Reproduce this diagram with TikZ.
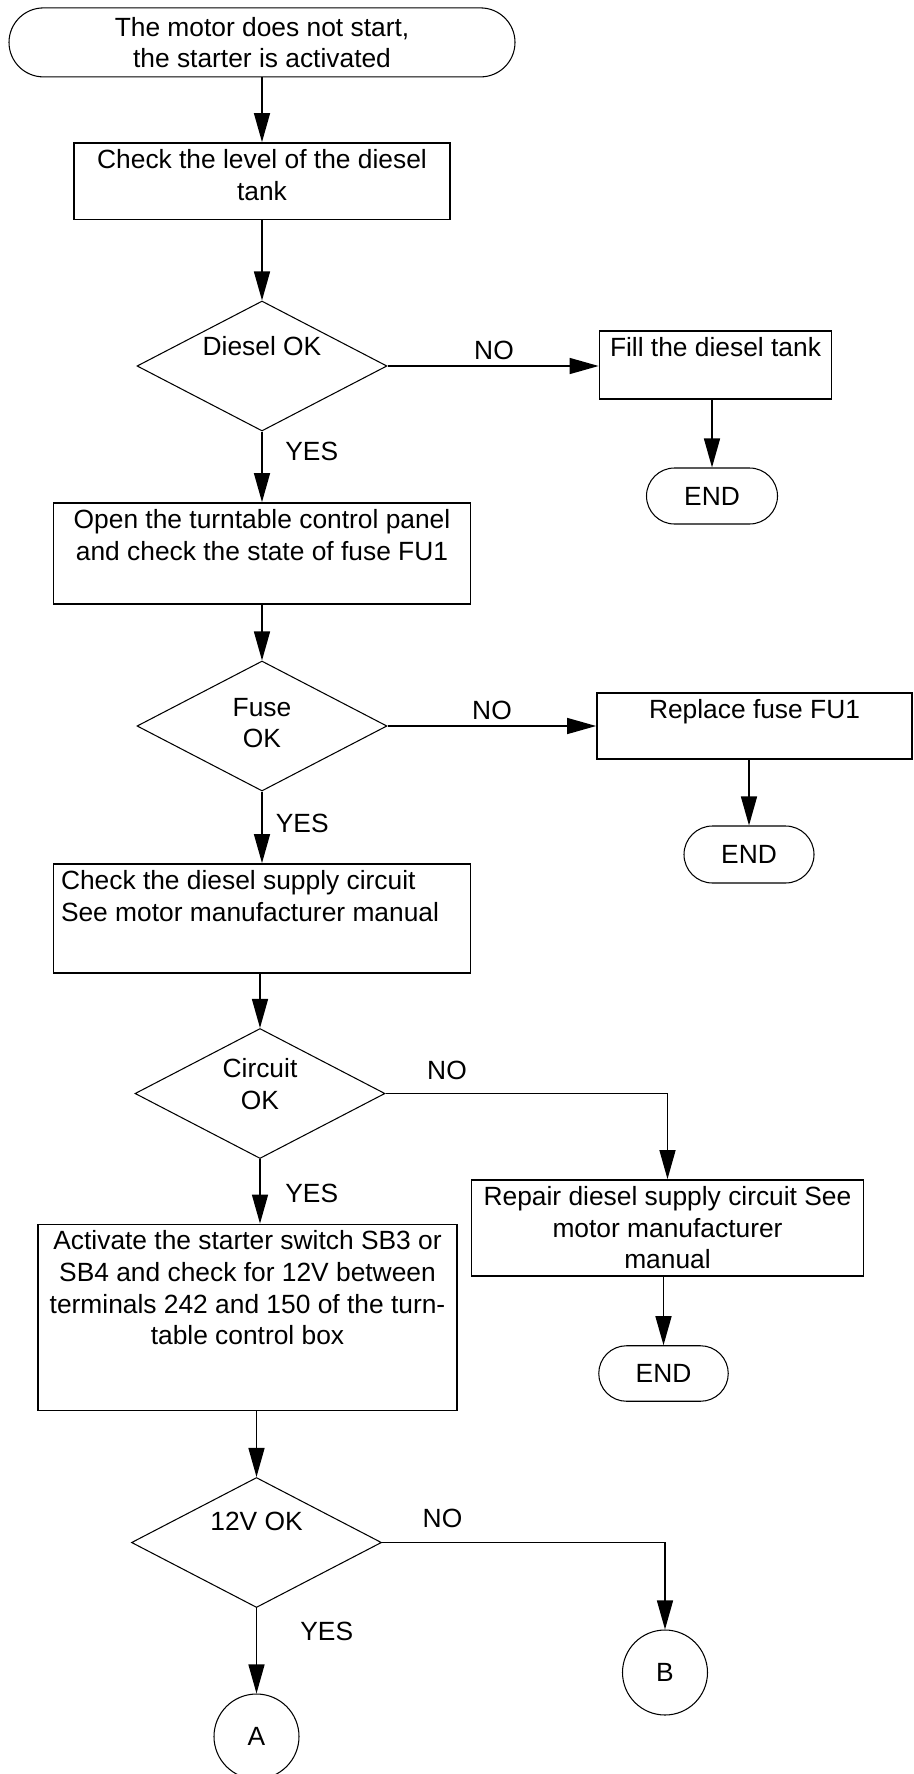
\documentclass[tikz,border=0pt]{standalone}
\usepackage{fontspec}
\setmainfont{Liberation Sans}
\usetikzlibrary{shapes.geometric,arrows.meta}
\newcommand{\intext}[4][\centering]{\parbox[c][#2][t]{#3}{#1\rule{0pt}{14.5pt}#4}}
\newcommand{\liftup}[2]{\raisebox{#1}[0pt][0pt]{\begin{tabular}{@{}c@{}}#2\end{tabular}}}
\begin{document}
\begin{tikzpicture}[
  font=\fontsize{15}{18}\selectfont,
  term/.style={rectangle, draw, line width=0.6pt, rounded corners=#1, align=center, inner sep=0pt},
  box/.style={rectangle, draw, line width=1pt, inner sep=0pt},
  decide/.style={diamond, draw, line width=0.6pt, inner sep=0pt, minimum width=5cm, minimum height=2.6cm},
  conn/.style={circle, draw, line width=0.6pt, minimum size=1.7cm, inner sep=0pt},
  lbl/.style={inner sep=0pt},
  arr/.style={line width=0.8pt, -{Triangle[length=0.58cm,width=0.32cm]}}
]
\useasboundingbox (0,0) rectangle (18.26,-35.48);
\node[term=0.69cm, minimum width=10.12cm, minimum height=1.38cm] (start) at (5.24,-0.848) {The motor does not start,\\the starter is activated};
\node[box] (check) at (5.24,-3.625) {\intext{1.53cm}{7.53cm}{Check the level of the diesel\\tank}};
\node[decide] (d1) at (5.24,-7.32) {\liftup{0.21cm}{Diesel OK}};
\node[box] (fill) at (14.31,-7.30) {\intext{1.37cm}{4.64cm}{Fill the diesel tank}};
\node[term=0.56cm, minimum width=2.62cm, minimum height=1.12cm] (end1) at (14.24,-9.92) {END};
\node[box] (open) at (5.24,-11.07) {\intext{2.02cm}{8.34cm}{Open the turntable control panel\\and check the state of fuse FU1}};
\node[decide] (d2) at (5.24,-14.52) {\liftup{-0.12cm}{Fuse\\OK}};
\node[box] (rep) at (15.09,-14.52) {\intext{1.31cm}{6.3cm}{Replace fuse FU1}};
\node[term=0.57cm, minimum width=2.6cm, minimum height=1.14cm] (end2) at (14.98,-17.09) {END};
\node[box] (supply) at (5.24,-18.37) {\intext[\raggedright\leftskip=0.15cm\relax]{2.18cm}{8.34cm}{Check the diesel supply circuit\\See motor manufacturer manual}};
\node[decide] (d3) at (5.2,-21.87) {\liftup{0cm}{Circuit\\OK}};
\node[box] (repair) at (13.35,-24.56) {\intext{1.92cm}{7.84cm}{Repair diesel supply circuit See\\motor manufacturer\\manual}};
\node[term=0.555cm, minimum width=2.59cm, minimum height=1.11cm] (end3) at (13.27,-27.47) {END};
\node[box] (act) at (4.95,-26.35) {\intext{3.72cm}{8.38cm}{Activate the starter switch SB3 or\\SB4 and check for 12V between\\terminals 242 and 150 of the turn-\\table control box}};
\node[decide] (d4) at (5.13,-30.85) {\liftup{0.25cm}{12V OK}};
\node[conn] (B) at (13.3,-33.45) {B};
\node[conn] (A) at (5.13,-34.73) {A};

\node[lbl] (no1) at (9.88,-7.0) {NO};
\node[lbl] (no2) at (9.84,-14.2) {NO};
\node[lbl] (no3) at (8.94,-21.4) {NO};
\node[lbl] (no4) at (8.85,-30.36) {NO};
\node[lbl, anchor=west] (yes1) at (5.7,-9.02) {YES};
\node[lbl, anchor=west] (yes2) at (5.51,-16.46) {YES};
\node[lbl, anchor=west] (yes3) at (5.7,-23.87) {YES};
\node[lbl, anchor=west] (yes4) at (6.0,-32.62) {YES};

\draw[arr] (start) -- (check);
\draw[arr] (check) -- (d1);
\draw[arr] (d1.east) -- (d1.east -| fill.west);
\draw[arr] (fill.south -| end1) -- (end1);
\draw[arr] (d1) -- (open);
\draw[arr] (open) -- (d2);
\draw[arr] (d2.east) -- (d2.east -| rep.west);
\draw[arr] (rep.south -| end2) -- (end2);
\draw[arr] (d2) -- (supply);
\draw[arr] (supply.south -| d3) -- (d3);
\draw[arr] (d3.east) -| (repair.north);
\draw[arr] (repair.south -| end3) -- (end3);
\draw[arr] (d3) -- (d3 |- act.north);
\draw[arr] (act.south -| d4) -- (d4);
\draw[arr] (d4.east) -| (B.north);
\draw[arr] (d4) -- (A);
\end{tikzpicture}
\end{document}
